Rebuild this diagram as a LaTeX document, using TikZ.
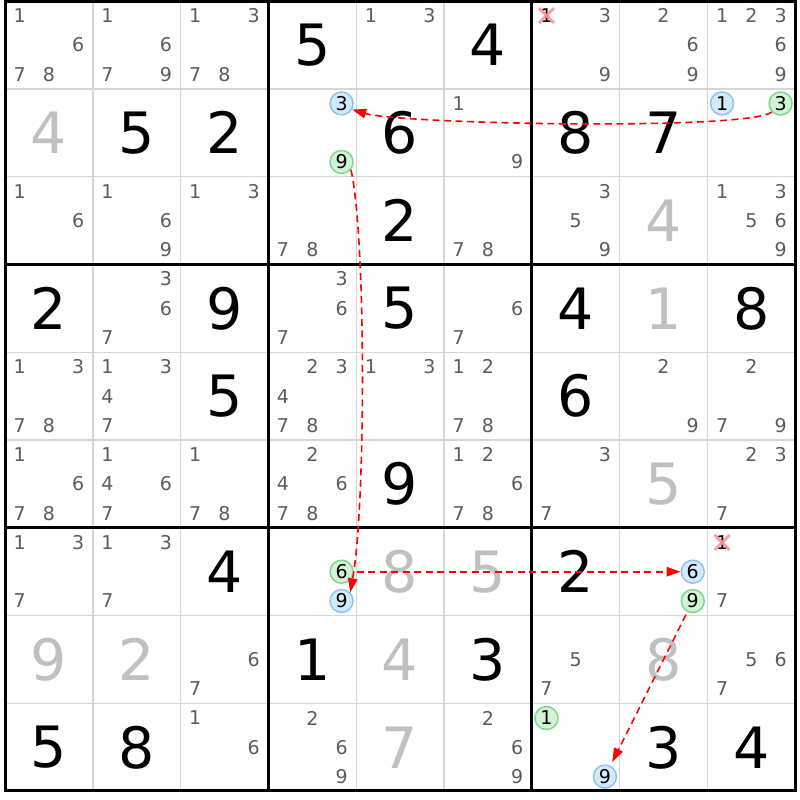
\documentclass[tikz,border=0pt]{standalone}
\usepackage{fontspec}
\setmainfont{DejaVu Sans}
\usetikzlibrary{arrows.meta}
\definecolor{candgray}{HTML}{5C5C5C}
\definecolor{solvedgray}{HTML}{C0C0C0}
\definecolor{gridthin}{HTML}{D6D6D6}
\definecolor{bluefill}{HTML}{D5E9FD}
\definecolor{bluedraw}{HTML}{8EC3F2}
\definecolor{greenfill}{HTML}{D3F3D6}
\definecolor{greendraw}{HTML}{80D68E}
\definecolor{chainred}{HTML}{FF0000}
\definecolor{xpink}{HTML}{FF8C8C}
\newcommand\sdkpos[3]{%
  \pgfmathsetmacro\sdkx{5+87.8*(#2-1)+29.27*(mod(#3-1,3)+0.5)}%
  \pgfmathsetmacro\sdky{1+87.8*(#1-1)+29.27*(floor((#3-1)/3)+0.5)}%
}
\newcommand\cands[3]{%
  \foreach \d in {#3}{%
    \sdkpos{#1}{#2}{\d}%
    \node[cand] (n#1#2\d) at (\sdkx,\sdky) {\d};
  }}
\newcommand\hcand[4]{%
  \sdkpos{#1}{#2}{#3}%
  \node[#4] (h#1#2#3) at (\sdkx,\sdky) {#3};}
\newcommand\elim[3]{%
  \sdkpos{#1}{#2}{#3}%
  \node[cand,text=black] (e#1#2#3) at (\sdkx,\sdky) {#3};
  \draw[xmark] ([shift={(-7.5,-7.5)}]e#1#2#3.center) -- ([shift={(7.5,7.5)}]e#1#2#3.center);
  \draw[xmark] ([shift={(-7.5,7.5)}]e#1#2#3.center) -- ([shift={(7.5,-7.5)}]e#1#2#3.center);}
\newcommand\given[3]{\node[givendigit] (g#1#2) at ({5+87.8*(#2-0.5)},{1+87.8*(#1-0.5)}) {#3};}
\newcommand\solved[3]{\node[solveddigit] (g#1#2) at ({5+87.8*(#2-0.5)},{1+87.8*(#1-0.5)}) {#3};}
\begin{document}
\begin{tikzpicture}[x=1pt,y=-1pt,
  cand/.style={font=\fontsize{19}{19}\selectfont, text=candgray, inner sep=0pt},
  givendigit/.style={font=\fontsize{57}{57}\selectfont, text=black, inner sep=0pt},
  solveddigit/.style={givendigit, text=solvedgray},
  hc/.style={circle, line width=1.5pt, minimum size=23pt, inner sep=0pt,
    font=\fontsize{19}{19}\selectfont, text=black},
  bluec/.style={hc, draw=bluedraw, fill=bluefill},
  greenc/.style={hc, draw=greendraw, fill=greenfill},
  xmark/.style={draw=xpink, line width=2.8pt, opacity=0.85},
  thingrid/.style={draw=gridthin, line width=1.4pt},
  thickgrid/.style={draw=black, line width=3pt},
  chain/.style={draw=chainred, line width=1.6pt, dash pattern=on 7pt off 4.5pt,
    -{Triangle[length=14pt,width=9.5pt]}}]
\fill[white] (0,0) rectangle (800,800);
\useasboundingbox (0,0) rectangle (800,800);
% thin lines
\foreach \i in {1,2,4,5,7,8}{
  \draw[thingrid] ({5+87.8*\i},1) -- ({5+87.8*\i},791);
  \draw[thingrid] (5,{1+87.8*\i}) -- (795,{1+87.8*\i});
}
\foreach \i in {3,6}{
  \draw[thickgrid] ({5+87.8*\i},1) -- ({5+87.8*\i},791);
  \draw[thickgrid] (5,{1+87.8*\i}) -- (795,{1+87.8*\i});
}
\draw[thickgrid] (5,1.2) rectangle (795,790.4);
% row 1
\cands{1}{1}{1,6,7,8} \cands{1}{2}{1,6,7,9} \cands{1}{3}{1,3,7,8} \given{1}{4}{5}
\cands{1}{5}{1,3} \given{1}{6}{4} \elim{1}{7}{1} \cands{1}{7}{3,9} \cands{1}{8}{2,6,9}
\cands{1}{9}{1,2,3,6,9}
% row 2
\solved{2}{1}{4} \given{2}{2}{5} \given{2}{3}{2} \hcand{2}{4}{3}{bluec} \hcand{2}{4}{9}{greenc}
\given{2}{5}{6} \cands{2}{6}{1,9} \given{2}{7}{8} \given{2}{8}{7}
\hcand{2}{9}{1}{bluec} \hcand{2}{9}{3}{greenc}
% row 3
\cands{3}{1}{1,6} \cands{3}{2}{1,6,9} \cands{3}{3}{1,3} \cands{3}{4}{7,8} \given{3}{5}{2}
\cands{3}{6}{7,8} \cands{3}{7}{3,5,9} \solved{3}{8}{4} \cands{3}{9}{1,3,5,6,9}
% row 4
\given{4}{1}{2} \cands{4}{2}{3,6,7} \given{4}{3}{9} \cands{4}{4}{3,6,7} \given{4}{5}{5}
\cands{4}{6}{6,7} \given{4}{7}{4} \solved{4}{8}{1} \given{4}{9}{8}
% row 5
\cands{5}{1}{1,3,7,8} \cands{5}{2}{1,3,4,7} \given{5}{3}{5} \cands{5}{4}{2,3,4,7,8}
\cands{5}{5}{1,3} \cands{5}{6}{1,2,7,8} \given{5}{7}{6} \cands{5}{8}{2,9} \cands{5}{9}{2,7,9}
% row 6
\cands{6}{1}{1,6,7,8} \cands{6}{2}{1,4,6,7} \cands{6}{3}{1,7,8} \cands{6}{4}{2,4,6,7,8}
\given{6}{5}{9} \cands{6}{6}{1,2,6,7,8} \cands{6}{7}{3,7} \solved{6}{8}{5} \cands{6}{9}{2,3,7}
% row 7
\cands{7}{1}{1,3,7} \cands{7}{2}{1,3,7} \given{7}{3}{4} \hcand{7}{4}{6}{greenc} \hcand{7}{4}{9}{bluec}
\solved{7}{5}{8} \solved{7}{6}{5} \given{7}{7}{2} \hcand{7}{8}{6}{bluec} \hcand{7}{8}{9}{greenc}
\elim{7}{9}{1} \cands{7}{9}{7}
% row 8
\solved{8}{1}{9} \solved{8}{2}{2} \cands{8}{3}{6,7} \given{8}{4}{1} \solved{8}{5}{4}
\given{8}{6}{3} \cands{8}{7}{5,7} \solved{8}{8}{8} \cands{8}{9}{5,6,7}
% row 9
\given{9}{1}{5} \given{9}{2}{8} \cands{9}{3}{1,6} \cands{9}{4}{2,6,9} \solved{9}{5}{7}
\cands{9}{6}{2,6,9} \hcand{9}{7}{1}{greenc} \hcand{9}{7}{9}{bluec} \given{9}{8}{3} \given{9}{9}{4}
% chain
\draw[chain] (h293.-135) .. controls (745,131) and (400,124) .. (h243.-30);
\draw[chain] (h249.-40) .. controls (366,235) and (366,505) .. (h749.45);
\draw[chain, shorten <=3pt] (h746) -- (h786);
\draw[chain, shorten <=3pt, shorten >=4pt] (h789) -- (h979);
\end{tikzpicture}
\end{document}
